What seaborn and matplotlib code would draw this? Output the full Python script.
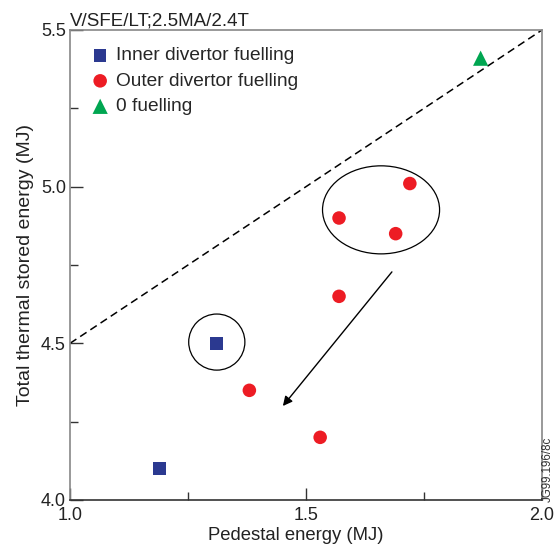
import matplotlib
matplotlib.use("Agg")
import matplotlib.pyplot as plt
import seaborn as sns
import pandas as pd
from matplotlib.patches import Ellipse
from matplotlib.ticker import MultipleLocator, FormatStrFormatter

# ---- data ----
inner_x = [1.19, 1.31]
inner_y = [4.10, 4.50]
outer_x = [1.38, 1.53, 1.57, 1.57, 1.69, 1.72]
outer_y = [4.35, 4.20, 4.65, 4.90, 4.85, 5.01]
zero_x = [1.87]
zero_y = [5.41]
groups = ["Inner divertor fuelling", "Outer divertor fuelling", "0 fuelling"]
line_x = [1.0, 2.0]
line_y = [4.5, 5.5]

df = pd.DataFrame({
    "x": inner_x + outer_x + zero_x,
    "y": inner_y + outer_y + zero_y,
    "g": [groups[0]] * len(inner_x) + [groups[1]] * len(outer_x) + [groups[2]] * len(zero_x),
})

sns.set_style("white")
plt.rcParams["font.family"] = ["Liberation Sans", "DejaVu Sans"]

fig = plt.figure(figsize=(5.55, 5.45), dpi=100)
ax = fig.add_axes([70 / 555, 1 - 500 / 545, 472 / 555, 470 / 545])

palette = {groups[0]: "#2B3990", groups[1]: "#ED1C24", groups[2]: "#00A651"}
markers = {groups[0]: "s", groups[1]: "o", groups[2]: "^"}
sizes = {groups[0]: 80, groups[1]: 95, groups[2]: 120}

ax.plot(line_x, line_y, color="black", lw=1.1, dashes=(5, 3), zorder=1)

for g in groups:
    sub = df[df.g == g]
    sns.scatterplot(data=sub, x="x", y="y", color=palette[g], marker=markers[g],
                    s=sizes[g], edgecolor="none", ax=ax, label=g, zorder=3)

# circle around inner square and ellipse around outer group
ax.add_patch(Ellipse((1.311, 4.504), 0.119, 0.179, fill=False, ec="black", lw=0.9))
ax.add_patch(Ellipse((1.659, 4.926), 0.248, 0.281, fill=False, ec="black", lw=0.9))
ax.annotate("", xy=(1.451, 4.300), xytext=(1.682, 4.728),
            arrowprops=dict(arrowstyle="-|>", color="black", lw=1.0,
                            mutation_scale=14, shrinkA=0, shrinkB=0))

ax.set_xlim(1.0, 2.0)
ax.set_ylim(4.0, 5.5)
ax.xaxis.set_major_locator(MultipleLocator(0.5))
ax.xaxis.set_minor_locator(MultipleLocator(0.25))
ax.yaxis.set_major_locator(MultipleLocator(0.5))
ax.yaxis.set_minor_locator(MultipleLocator(0.25))
ax.tick_params(axis="both", which="major", direction="in", length=9, width=1,
               labelsize=13, color="#333333", labelcolor="#222222")
ax.tick_params(axis="both", which="minor", direction="in", length=6, width=1,
               color="#333333")
ax.tick_params(axis="x", which="major", pad=5)
ax.tick_params(axis="y", which="major", pad=3)
ax.xaxis.set_major_formatter(FormatStrFormatter("%.1f"))
ax.yaxis.set_major_formatter(FormatStrFormatter("%.1f"))
ax.tick_params(bottom=True, left=True, which="both")

for name, sp in ax.spines.items():
    sp.set_visible(True)
    sp.set_color("#888888")
    sp.set_linewidth(1.2)
ax.spines["bottom"].set_color("#333333")

ax.set_xlabel("Pedestal energy (MJ)", fontsize=13.3, color="#222222")
ax.xaxis.set_label_coords((296 - 70) / 472, -0.057)
ax.set_ylabel("Total thermal stored energy (MJ)", fontsize=14, color="#222222", labelpad=5)
ax.set_title("V/SFE/LT;2.5MA/2.4T", loc="left", fontsize=13.5, color="#222222", pad=3)

leg = ax.legend(loc="upper left", frameon=False, fontsize=13.8,
                handlelength=0.8, handletextpad=0.4, borderpad=0, borderaxespad=0,
                labelspacing=0.42, bbox_to_anchor=(92.5 / 555, 1 - 47 / 545),
                bbox_transform=fig.transFigure)

fig.text(548 / 555, 1 - 502 / 545, "JG99.196/8c", rotation=90, fontsize=8.3,
         ha="center", va="bottom", color="#333333")

fig.savefig("out.png", dpi=100)
